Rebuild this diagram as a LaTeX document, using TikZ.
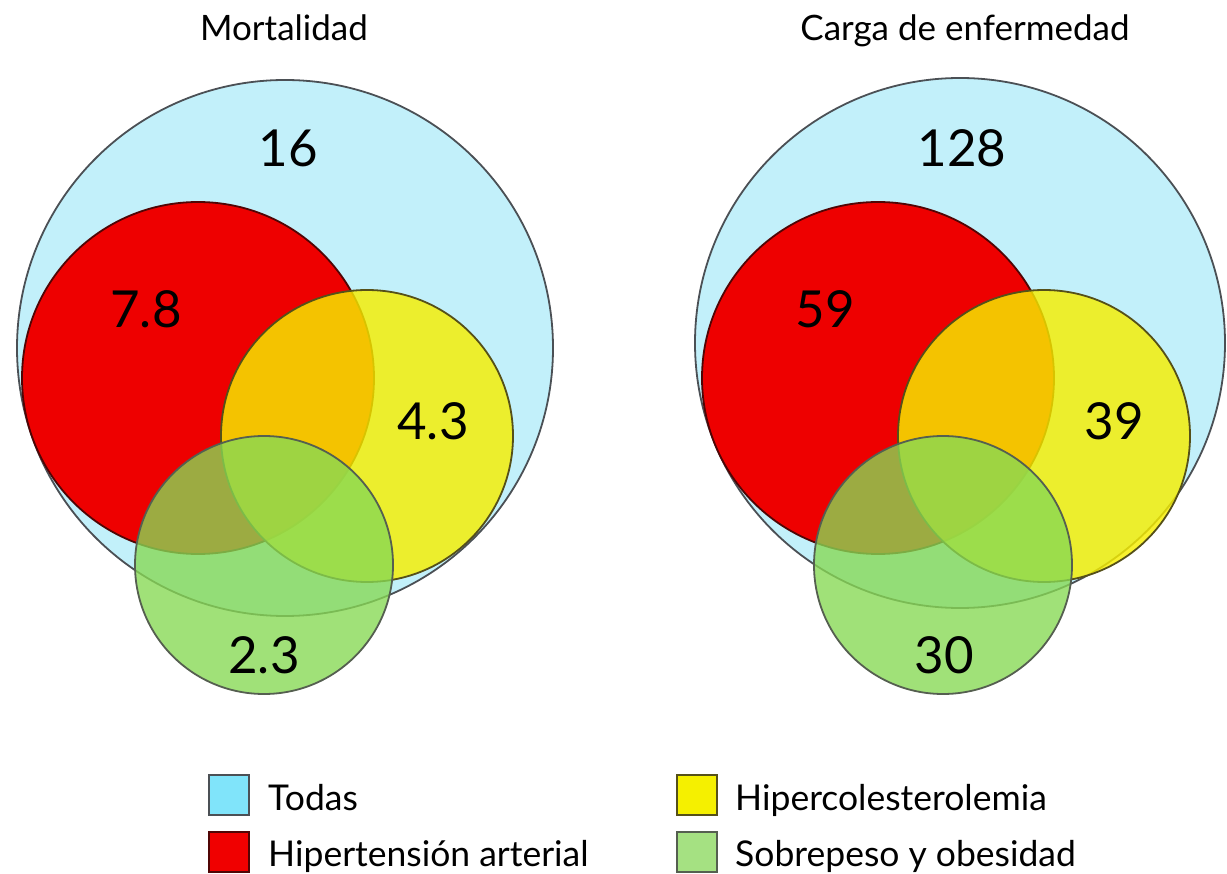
\documentclass[tikz,border=0pt]{standalone}
\usepackage{fontspec}
\setmainfont{Lato}
\definecolor{cBlue}{RGB}{194,240,250}
\definecolor{cRed}{RGB}{238,0,0}
\definecolor{cYellow}{RGB}{246,238,0}
\definecolor{cGreen}{RGB}{135,217,84}
\definecolor{lBlue}{RGB}{128,228,250}
\definecolor{lRed}{RGB}{240,0,0}
\definecolor{lYellow}{RGB}{245,240,0}
\definecolor{lGreen}{RGB}{165,225,130}
\definecolor{oBlue}{RGB}{75,80,85}
\definecolor{oRed}{RGB}{80,5,5}
\definecolor{oYellow}{RGB}{85,80,25}
\definecolor{oGreen}{RGB}{85,95,80}
\begin{document}
\begin{tikzpicture}[x=1pt,y=-1pt,
  venn/.style={circle, inner sep=0pt, outer sep=0pt, line width=1.8pt},
  todas/.style={venn, fill=cBlue, draw=oBlue},
  hta/.style={venn, fill=cRed, draw=oRed},
  hcol/.style={venn, fill=cYellow, fill opacity=0.82, draw=oYellow},
  obes/.style={venn, fill=cGreen, fill opacity=0.79, draw=oGreen},
  num/.style={font=\fontsize{51}{51}\selectfont, inner sep=0pt, anchor=base},
  ttl/.style={font=\fontsize{35}{35}\selectfont, inner sep=0pt, anchor=base},
  lbox/.style={minimum size=40pt, inner sep=0pt, line width=2pt},
  ltxt/.style={font=\fontsize{35.5}{35.5}\selectfont, inner sep=0pt, anchor=base west}]
\useasboundingbox (0,0) rectangle (1227,874);
% Left diagram: Mortalidad
\node[todas, minimum size=536pt] (mB) at (285,348) {};
\node[hta,   minimum size=352pt] (mR) at (198,378) {};
\node[hcol,  minimum size=292pt] (mY) at (367,436) {};
\node[obes,  minimum size=258pt] (mG) at (264,565) {};
\node[ttl] (mT) at (284,41) {Mortalidad};
\node[num] (mn1) at (288,167) {16};
\node[num] (mn2) at (146,328) {7.8};
\node[num] (mn3) at (433,440) {4.3};
\node[num] (mn4) at (264,673) {2.3};
% Right diagram: Carga de enfermedad
\node[todas, minimum size=530pt] (cB) at (960,343) {};
\node[hta,   minimum size=352pt] (cR) at (878,378) {};
\node[hcol,  minimum size=292pt] (cY) at (1044,436) {};
\node[obes,  minimum size=258pt] (cG) at (943,565) {};
\node[ttl] (cT) at (965,41) {Carga de enfermedad};
\node[num] (cn1) at (962,167) {128};
\node[num] (cn2) at (825,328) {59};
\node[num] (cn3) at (1114,440) {39};
\node[num] (cn4) at (944,673) {30};
% Legend
\node[lbox, fill=lBlue, draw=oBlue] (k1) at (229,795) {};
\node[lbox, fill=lRed, draw=oRed] (k2) at (229,852) {};
\node[lbox, fill=lYellow, draw=oYellow] (k3) at (697,795) {};
\node[lbox, fill=lGreen, draw=oGreen] (k4) at (697,852) {};
\node[ltxt] (t1) at (268,810) {Todas};
\node[ltxt] (t2) at (268,866) {Hipertensión arterial};
\node[ltxt] (t3) at (735,810) {Hipercolesterolemia};
\node[ltxt] (t4) at (735,866) {Sobrepeso y obesidad};
\end{tikzpicture}
\end{document}
